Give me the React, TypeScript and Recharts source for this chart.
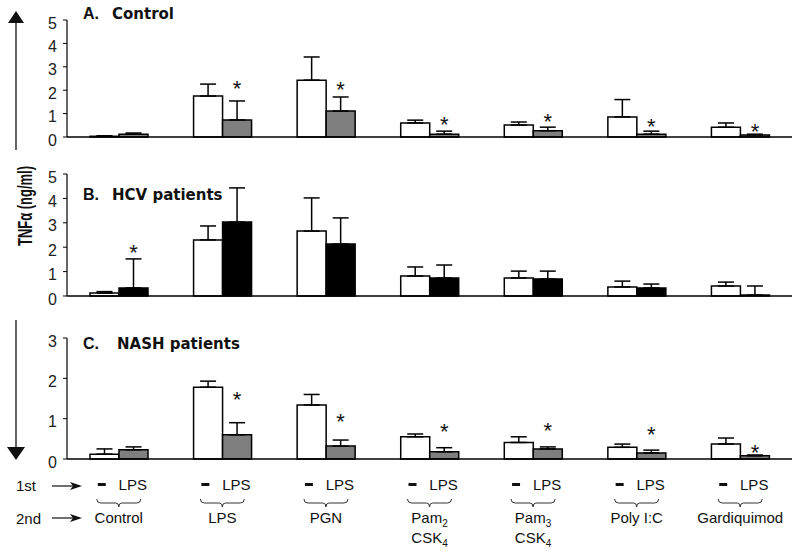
import { BarChart, Bar, XAxis, YAxis, ErrorBar, LabelList } from "recharts";

// second treatment (x categories); "_" marks a subscript, "\n" a line break
const categories = ["Control", "LPS", "PGN", "Pam_2\nCSK_4", "Pam_3\nCSK_4", "Poly I:C", "Gardiquimod"];
const firstTreatment = ["–", "LPS"];

// A. Control (TNFα ng/ml)
const whiteA = [0.03, 1.75, 2.43, 0.6, 0.51, 0.86, 0.42];
const whiteErrA = [0.02, 0.51, 0.99, 0.12, 0.13, 0.74, 0.18];
const grayA = [0.12, 0.73, 1.11, 0.12, 0.27, 0.12, 0.09];
const grayErrA = [0.05, 0.81, 0.6, 0.13, 0.15, 0.13, 0.03];
const starA = [null, 2.22, 2.18, 0.68, 0.81, 0.6, 0.38];

// B. HCV patients
const whiteB = [0.12, 2.3, 2.66, 0.82, 0.74, 0.37, 0.41];
const whiteErrB = [0.06, 0.57, 1.36, 0.37, 0.28, 0.24, 0.16];
const blackB = [0.33, 3.03, 2.13, 0.74, 0.7, 0.33, 0.04];
const blackErrB = [1.19, 1.4, 1.07, 0.53, 0.32, 0.16, 0.37];
const starB = [1.93, null, null, null, null, null, null];

// C. NASH patients
const whiteC = [0.12, 1.78, 1.34, 0.55, 0.41, 0.29, 0.37];
const whiteErrC = [0.13, 0.15, 0.26, 0.07, 0.14, 0.08, 0.15];
const grayC = [0.23, 0.6, 0.32, 0.18, 0.25, 0.15, 0.08];
const grayErrC = [0.07, 0.3, 0.15, 0.1, 0.05, 0.07, 0.02];
const starC = [null, 1.56, 1.01, 0.77, 0.79, 0.69, 0.25];

const ticks5 = [0, 1, 2, 3, 4, 5];
const ticks3 = [0, 1, 2, 3];

const sans = "'Liberation Sans', Arial, sans-serif";
const titleFont = "'DejaVu Sans', Verdana, sans-serif";

function buildData(w: number[], wErr: number[], s: number[], sErr: number[], star: (number | null)[]) {
  return categories.map((name, i) => ({
    name,
    white: w[i],
    whiteErr: [0, wErr[i]],
    second: s[i],
    secondErr: [0, sErr[i]],
    star: star[i],
  }));
}

const dataA = buildData(whiteA, whiteErrA, grayA, grayErrA, starA);
const dataB = buildData(whiteB, whiteErrB, blackB, blackErrB, starB);
const dataC = buildData(whiteC, whiteErrC, grayC, grayErrC, starC);

// asterisk drawn above the second bar, at the star level (data units)
function starLabel(values: number[]) {
  return (props: any) => {
    const { x, y, width, height, value, index } = props;
    if (value == null) return null;
    const v = values[index];
    const ppu = height / v;
    const base = y + height;
    const cy = base - value * ppu;
    return (
      <text x={x + width / 2} y={cy + 11} textAnchor="middle" fontSize={22} fontFamily={sans} fill="#111">
        *
      </text>
    );
  };
}

function GroupTick(props: any) {
  const { x, y, payload } = props;
  const lines = String(payload.value).split("\n");
  const c = x;
  return (
    <g>
      <rect x={c - 21} y={y + 24} width={8} height={3} fill="#111" />
      <text x={c + 14} y={y + 31} textAnchor="middle" fontSize={15} fontFamily={sans} fill="#111">
        {firstTreatment[1]}
      </text>
      <path
        d={`M${c - 22},${y + 40} Q${c - 22},${y + 44} ${c - 18},${y + 44} L${c - 3},${y + 44} Q${c},${y + 44} ${c},${y + 48} Q${c},${y + 44} ${c + 3},${y + 44} L${c + 18},${y + 44} Q${c + 22},${y + 44} ${c + 22},${y + 40}`}
        fill="none"
        stroke="#333"
        strokeWidth={1}
      />
      {lines.map((line, li) => {
        const [main, sub] = line.split("_");
        return (
          <text key={li} x={c} y={y + 64 + li * 20} textAnchor="middle" fontSize={15} fontFamily={sans} fill="#111">
            {main}
            {sub ? (
              <tspan fontSize={10} dy={4}>
                {sub}
              </tspan>
            ) : null}
          </text>
        );
      })}
    </g>
  );
}

function Panel(props: {
  data: any[];
  top: number;
  height: number;
  marginTop: number;
  max: number;
  ticks: number[];
  secondFill: string;
  secondValues: number[];
  xHeight: number;
  bottomTicks?: boolean;
}) {
  const { data, top, height, marginTop, max, ticks, secondFill, secondValues, xHeight, bottomTicks } = props;
  return (
    <div style={{ position: "absolute", left: 0, top, width: 800, height }}>
      <BarChart
        width={800}
        height={height}
        data={data}
        margin={{ top: marginTop, right: 8, bottom: 0, left: 0 }}
        barGap={0}
        barSize={29}
      >
        <XAxis
          dataKey="name"
          axisLine={{ stroke: "#000", strokeWidth: 1.5 }}
          tickLine={false}
          tickSize={0}
          tickMargin={0}
          interval={0}
          height={xHeight}
          tick={bottomTicks ? <GroupTick /> : false}
        />
        <YAxis
          width={67}
          domain={[0, max]}
          ticks={ticks}
          axisLine={{ stroke: "#000", strokeWidth: 1.2 }}
          tickLine={{ stroke: "#000" }}
          tickSize={4}
          tickMargin={6}
          tick={{ fill: "#222", fontSize: 16, fontFamily: sans, dy: 3 }}
        />
        <Bar dataKey="white" fill="#fff" stroke="#000" strokeWidth={1.5} isAnimationActive={false}>
          <ErrorBar dataKey="whiteErr" width={8} stroke="#000" strokeWidth={1.5} direction="y" />
        </Bar>
        <Bar dataKey="second" fill={secondFill} stroke="#000" strokeWidth={1.5} isAnimationActive={false}>
          <ErrorBar dataKey="secondErr" width={8} stroke="#000" strokeWidth={1.5} direction="y" />
          <LabelList dataKey="star" content={starLabel(secondValues)} />
        </Bar>
      </BarChart>
    </div>
  );
}

function SmallArrow({ x1, x2, y }: { x1: number; x2: number; y: number }) {
  return (
    <g>
      <line x1={x1} y1={y} x2={x2 - 6} y2={y} stroke="#111" strokeWidth={1.2} />
      <path d={`M${x2 - 12},${y - 4} L${x2},${y} L${x2 - 12},${y + 4} L${x2 - 9},${y} Z`} fill="#111" />
    </g>
  );
}

export default function App() {
  return (
    <div style={{ position: "absolute", left: 0, top: 0, width: 800, height: 551, background: "#fff", overflow: "hidden" }}>
      <Panel data={dataA} top={0} height={150} marginTop={20} max={5} ticks={ticks5} secondFill="#7f7f7f" secondValues={grayA} xHeight={13} />
      <Panel data={dataB} top={156} height={153} marginTop={18} max={5} ticks={ticks5} secondFill="#000" secondValues={blackB} xHeight={13} />
      <Panel data={dataC} top={320} height={231} marginTop={18} max={3} ticks={ticks3} secondFill="#7f7f7f" secondValues={grayC} xHeight={92} bottomTicks />

      <svg width={800} height={551} style={{ position: "absolute", left: 0, top: 0, pointerEvents: "none" }}>
        {/* panel titles */}
        <text x={83} y={19} fontSize={16} fontWeight="bold" fontFamily={sans} fill="#111">A.</text>
        <text x={112} y={19} fontSize={15} fontWeight="bold" fontFamily={titleFont} fill="#111">Control</text>
        <text x={83} y={200} fontSize={16} fontWeight="bold" fontFamily={sans} fill="#111">B.</text>
        <text x={112} y={200} fontSize={15} fontWeight="bold" fontFamily={titleFont} fill="#111">HCV patients</text>
        <text x={83} y={349} fontSize={16} fontWeight="bold" fontFamily={sans} fill="#111">C.</text>
        <text x={117} y={349} fontSize={15} fontWeight="bold" fontFamily={titleFont} fill="#111">NASH patients</text>

        {/* shared y label and arrows */}
        <text
          x={32}
          y={206}
          transform="rotate(-90 32 206)"
          textAnchor="middle"
          fontSize={21}
          fontWeight="bold"
          fontFamily={sans}
          fill="#111"
          textLength={80}
          lengthAdjust="spacingAndGlyphs"
        >
          TNFα (ng/ml)
        </text>
        <line x1={16} y1={22} x2={16} y2={150} stroke="#111" strokeWidth={1.3} />
        <path d="M8,23 L16,11 L24,23 Z" fill="#111" />
        <line x1={16} y1={320} x2={16} y2={448} stroke="#111" strokeWidth={1.3} />
        <path d="M7,447 L16,460 L25,447 Z" fill="#111" />

        {/* treatment row labels */}
        <text x={16} y={491} fontSize={15} fontFamily={sans} fill="#111">1st</text>
        <SmallArrow x1={52} x2={82} y={486} />
        <text x={16} y={524} fontSize={15} fontFamily={sans} fill="#111">2nd</text>
        <SmallArrow x1={52} x2={82} y={518} />
      </svg>
    </div>
  );
}
